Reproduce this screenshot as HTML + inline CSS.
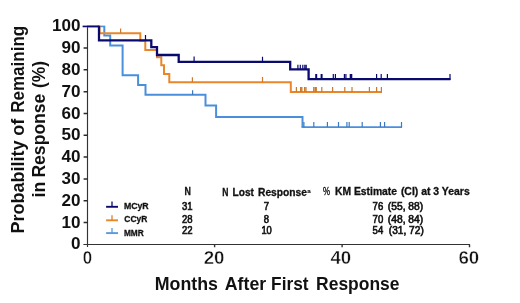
<!DOCTYPE html>
<html><head><meta charset="utf-8"><title>Probability of Remaining in Response</title>
<style>
html,body{margin:0;padding:0;background:#fff;}
body{width:520px;height:303px;overflow:hidden;}
svg{display:block;filter:blur(0.4px);}
text{font-family:"Liberation Sans",Arial,sans-serif;fill:#111;}
.b{font-weight:bold;}
</style></head>
<body>
<svg width="520" height="303" viewBox="0 0 520 303">
<rect width="520" height="303" fill="#fff"/>
<!-- axes -->
<g stroke="#333" stroke-width="1.15" fill="none">
<path d="M87.5 25.8V247"/>
<path d="M83.4 244.5H470"/>
<path stroke-width="1.4" d="M214.6 244.5V247.2M342.1 244.5V247.2M469.5 244.5V247.2"/>
<path stroke-width="1.5" stroke="#2a2a2a" d="M83.6 222.6H87.5 M83.6 200.8H87.5 M83.6 178.9H87.5 M83.6 157.1H87.5 M83.6 135.3H87.5 M83.6 113.5H87.5 M83.6 91.7H87.5 M83.6 69.8H87.5 M83.6 48.0H87.5"/>
</g>

<defs><clipPath id="plot"><rect x="80" y="25.6" width="440" height="230"/></clipPath></defs>
<g clip-path="url(#plot)">

<!-- MMR light blue -->
<g stroke="#4a8fdc" fill="none">
<path stroke-width="2" d="M87.4 26.2H104.3V35.5H110.2V45.6H122.6V75.3H138.1V85H145.5V94.8H205.5V105.4H216.1V117H302.5V127"/>
<path stroke-width="1.6" d="M301.5 127.1H401.7"/>
<path stroke="#3f78bd" stroke-width="1.2" d="M192.6 90.3V95M303.9 122V127M313.8 122V127M327.4 122V127M338.5 122V127M346.9 122V127M349.2 122V127M362.2 122V127M380.4 122V127M384.6 122V127M401.5 122V127.8"/>
</g>

<!-- CCyR orange -->
<g stroke="#ea862a" fill="none">
<path stroke-width="2" d="M87.4 26.2H99.5V33.2H140.3V40.8H145.3V50H157V57.3H161.3V65.2H164V73.9H169.3V82.2H290.8V91.9H381.9"/>
<path stroke="#c97a2e" stroke-width="1.2" d="M120.6 28.4V33M192.4 77.2V82M262.5 77V82M296.4 87V92M300.6 87V92M301.9 87V92M304.6 87V92M306 87V92M313.7 87V92M315.2 87V92M316.3 87V92M321.8 87V92M332.6 87V92M344.8 87V92M352 87V92M369.4 87V92M376.6 87V92M381.4 87V92.8"/>
</g>

<!-- MCyR dark blue -->
<g stroke="#0a0a6e" fill="none">
<path stroke-width="2" d="M82.6 26.2H99"/>
<path stroke-width="2.3" d="M99 25.6V40.3H151.3V47.1H157V55H178.7V61.8H290.2V69.3H308.6V79.2H450.4"/>
<path stroke-width="1.2" d="M145.5 34.9V40M194.1 56.6V62M262.5 56.7V62M297.9 64.7V69.5M300.3 64.7V69.5M302.8 64.7V69.5M304.8 64.7V69.5M306.2 64.7V69.5M333.3 74V79M335.4 74V79M344.4 74V79M345.9 74V79M376.6 74V79M381.2 74V79M387.4 74V79M450 74V79.9"/>
<path stroke-width="2" d="M316.2 74V79M321.6 74V79"/>
<path stroke-width="2.6" d="M351 74V79"/>
</g>

</g>
<!-- y tick labels -->
<g class="b" font-size="15.7" text-anchor="end" transform="translate(80.6 0) scale(1.09 1)">
<text x="0" y="31.3">100</text>
<text x="0" y="53.1">90</text>
<text x="0" y="74.9">80</text>
<text x="0" y="96.8">70</text>
<text x="0" y="118.6">60</text>
<text x="0" y="140.4">50</text>
<text x="0" y="162.2">40</text>
<text x="0" y="184.0">30</text>
<text x="0" y="205.9">20</text>
<text x="0" y="227.7">10</text>
<text x="0" y="249.5">0</text>
</g>

<!-- x tick labels -->
<g class="b" font-size="18.2" text-anchor="middle" stroke="#fff" stroke-width="0.45">
<text transform="translate(87.4 264.2) scale(0.93 1)">0</text>
<text transform="translate(214.1 264.3) scale(1.03 1)">20</text>
<text transform="translate(340.8 264.3) scale(1.03 1)">40</text>
<text transform="translate(468.8 264.3) scale(1.03 1)">60</text>
</g>

<!-- axis titles -->
<g class="b" font-size="19">
<text x="154.8" y="290.3" textLength="63.2" lengthAdjust="spacingAndGlyphs">Months</text>
<text x="224.8" y="290.3" textLength="41.4" lengthAdjust="spacingAndGlyphs">After</text>
<text x="271.1" y="290.3" textLength="37.4" lengthAdjust="spacingAndGlyphs">First</text>
<text x="316.1" y="290.3" textLength="83.4" lengthAdjust="spacingAndGlyphs">Response</text>
</g>
<g class="b" font-size="19">
<text transform="translate(23.8 233.6) rotate(-90)" textLength="93" lengthAdjust="spacingAndGlyphs">Probability</text>
<text transform="translate(23.8 135.8) rotate(-90)" textLength="17" lengthAdjust="spacingAndGlyphs">of</text>
<text transform="translate(23.8 112.8) rotate(-90)" textLength="87" lengthAdjust="spacingAndGlyphs">Remaining</text>
<text transform="translate(45.2 197.5) rotate(-90)" textLength="15.6" lengthAdjust="spacingAndGlyphs">in</text>
<text transform="translate(45.2 177.6) rotate(-90)" textLength="84" lengthAdjust="spacingAndGlyphs">Response</text>
<text transform="translate(45.2 88) rotate(-90)" textLength="27" lengthAdjust="spacingAndGlyphs">(%)</text>
</g>

<!-- legend -->
<g fill="none">
<path stroke="#0a0a6e" stroke-width="1.9" d="M106.1 206.8H118"/><path stroke="#0a0a6e" stroke-width="1.3" d="M112 201.6V207"/>
<path stroke="#ea862a" stroke-width="1.9" d="M106.1 220.3H118"/><path stroke="#d9802c" stroke-width="1.3" d="M112 215.2V220.5"/>
<path stroke="#5a98e0" stroke-width="1.9" d="M106.1 233.1H118"/><path stroke="#5a98e0" stroke-width="1.3" d="M112 227.9V233.1"/>
</g>
<g class="b" font-size="9" stroke="#111" stroke-width="0.3">
<text x="123.9" y="208.5" textLength="24.8" lengthAdjust="spacingAndGlyphs">MCyR</text>
<text x="124.3" y="222.3" textLength="23" lengthAdjust="spacingAndGlyphs">CCyR</text>
<text x="123.9" y="235.6" textLength="19.8" lengthAdjust="spacingAndGlyphs">MMR</text>
</g>

<!-- table headers -->
<g class="b" font-size="10.4" stroke="#111" stroke-width="0.3">
<text x="184.6" y="195.4" textLength="6.4" lengthAdjust="spacingAndGlyphs">N</text>
<text x="222.2" y="196.3" textLength="6.2" lengthAdjust="spacingAndGlyphs">N</text>
<text x="232.6" y="196.3" textLength="21.4" lengthAdjust="spacingAndGlyphs">Lost</text>
<text x="258" y="196.3" textLength="49" lengthAdjust="spacingAndGlyphs">Response</text>
<text x="307.2" y="192.9" font-size="6.2" stroke-width="0.15">a</text>
<text x="323" y="195.4" textLength="7" lengthAdjust="spacingAndGlyphs" font-weight="normal" stroke-width="0.35">%</text>
<text x="335" y="195.4" textLength="62" lengthAdjust="spacingAndGlyphs">KM Estimate</text>
<text x="400.9" y="195.4" textLength="68.8" lengthAdjust="spacingAndGlyphs">(CI) at 3 Years</text>
</g>

<!-- table values -->
<g font-size="10.8" stroke="#111" stroke-width="0.65">
<text x="181.9" y="210.3" textLength="10.6" lengthAdjust="spacingAndGlyphs">31</text>
<text x="181.9" y="223" textLength="10.6" lengthAdjust="spacingAndGlyphs">28</text>
<text x="181.9" y="233.9" textLength="10.6" lengthAdjust="spacingAndGlyphs">22</text>
<text x="263.7" y="210.3" textLength="5.3" lengthAdjust="spacingAndGlyphs">7</text>
<text x="263.7" y="222.8" textLength="5.3" lengthAdjust="spacingAndGlyphs">8</text>
<text x="261.4" y="233.9" textLength="10.4" lengthAdjust="spacingAndGlyphs">10</text>
<text x="372.6" y="210.3" textLength="10.6" lengthAdjust="spacingAndGlyphs">76</text>
<text x="387.8" y="210.3" textLength="35.4" lengthAdjust="spacingAndGlyphs">(55, 88)</text>
<text x="372.6" y="223" textLength="10.6" lengthAdjust="spacingAndGlyphs">70</text>
<text x="387.8" y="223" textLength="35.4" lengthAdjust="spacingAndGlyphs">(48, 84)</text>
<text x="372.6" y="233.9" textLength="10.6" lengthAdjust="spacingAndGlyphs">54</text>
<text x="388.8" y="233.9" textLength="35" lengthAdjust="spacingAndGlyphs">(31, 72)</text>
</g>
</svg>
</body></html>
